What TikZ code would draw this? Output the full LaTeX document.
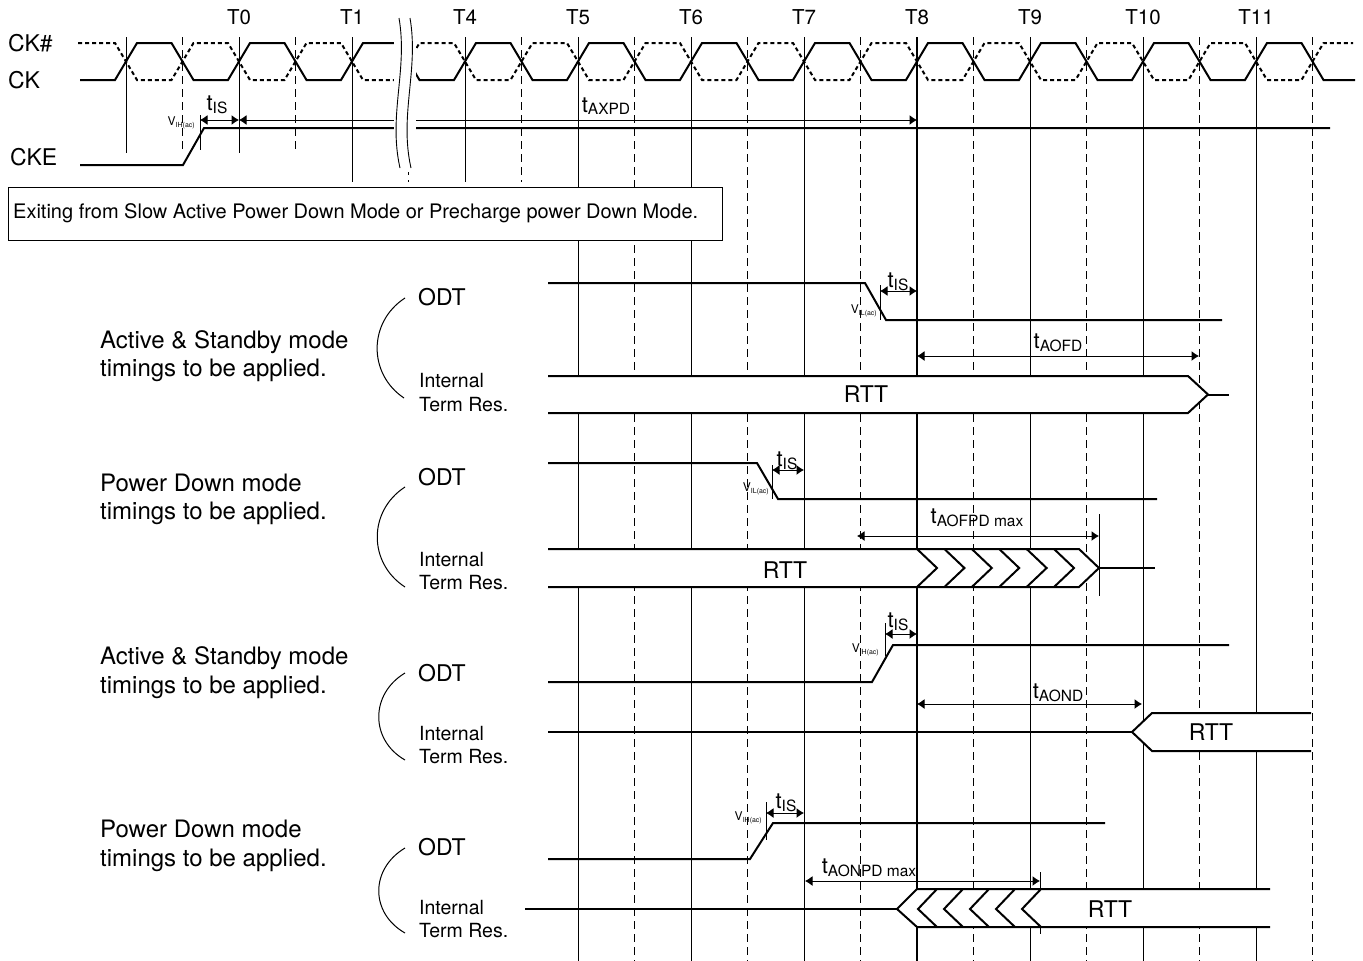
\documentclass[tikz,border=0pt]{standalone}
\usepackage{fontspec}
\setmainfont{TeX Gyre Heros}
\usetikzlibrary{arrows.meta}

\newcommand{\tsub}[1]{t\raisebox{-2.5pt}{\fontsize{15.5}{16}\selectfont #1}}
\newcommand{\vsub}[1]{{\fontsize{12}{12}\selectfont V}\raisebox{-2pt}{\fontsize{7}{7}\selectfont #1}}

\begin{document}
\begin{tikzpicture}[
    x                = 1pt,
    y                = -1pt,
    sig/.style       = {line width=2pt},
    sigdash/.style   = {line width=2pt, dash pattern=on 4pt off 3pt},
    edgeline/.style  = {line width=0.9pt},
    halfline/.style  = {line width=0.9pt, dash pattern=on 8pt off 5pt},
    timearrow/.style = {line width=1pt, {Latex[length=7.5pt,width=10pt]}-{Latex[length=7.5pt,width=10pt]}},
    marker/.style    = {line width=1pt},
    bus/.style       = {line width=2pt, fill=white},
    sigtext/.style   = {font=\fontsize{23}{27}\selectfont, inner sep=0pt, anchor=west},
    tlabel/.style    = {font=\fontsize{20.5}{24}\selectfont, inner sep=0pt},
    timetext/.style  = {font=\fontsize{22}{26}\selectfont, inner sep=0pt},
    vtext/.style     = {inner sep=0pt, anchor=east},
    modetext/.style  = {font=\fontsize{24}{28.7}\selectfont, inner sep=0pt, anchor=west, align=left},
    termtext/.style  = {font=\fontsize{19.5}{23.5}\selectfont, inner sep=0pt, anchor=west, align=left}
  ]
\useasboundingbox (0,0) rectangle (1363,961);

% clock edge lines
\foreach \k in {0,...,10} {
  \pgfmathsetmacro{\xs}{126+113*\k}
  \pgfmathsetmacro{\xd}{182.5+113*\k}
  \ifnum\k<2 \def\yend{153}\else\ifnum\k<4 \def\yend{182}\else\def\yend{961}\fi\fi
  \draw[edgeline] (\xs,37) -- (\xs,\yend);
  \draw[halfline] (\xd,37) -- (\xd,\yend);
}
\draw[line width=2pt] (917,37) -- (917,961);

\foreach \x/\t in {239/T0, 352/T1, 465/T4, 578/T5, 691/T6, 804/T7, 917/T8, 1030/T9, 1143/T10, 1256/T11}
  \node[tlabel] (l\t) at (\x,17) {\t};

\node[sigtext] (ckn) at (8,43) {CK\#};
\node[sigtext] (ck) at (8,80) {CK};
\node[sigtext] (cke) at (10,157) {CKE};

\draw[sig] (80,80) \foreach \k in {0,...,10} { -- ({115+113*\k},80) -- ({137+113*\k},43) -- ({171.5+113*\k},43) -- ({193.5+113*\k},80) } -- (1355,80);
\draw[sigdash] (78,43) \foreach \k in {0,...,10} { -- ({115+113*\k},43) -- ({137+113*\k},80) -- ({171.5+113*\k},80) -- ({193.5+113*\k},43) } -- (1353,43);

\draw[sig] (80,165) -- (183,165) -- (204,128) -- (1330,128);
\draw[marker] (200,115) -- (200,150);
\draw[timearrow] (200,120) -- (239,120);
\draw[timearrow] (239,120) -- (917,120);
\node[timetext] (tis0) at (217,105) {\tsub{IS}};
\node[timetext] (taxpd) at (606,106) {\tsub{AXPD}};
\node[vtext] (vih0) at (195,123) {\vsub{IH(ac)}};

% break
\fill[white] (393.5,15) rectangle (416,172);
\draw[edgeline] (399,18) .. controls (408,70) and (388,115) .. (400,168);
\draw[edgeline] (410,18) .. controls (419,70) and (399,115) .. (411,168);

\node[draw, line width=1pt, fill=white, minimum width=714pt, minimum height=53pt, anchor=north west, inner sep=0pt] (exitbox) at (8,187) {};
\node[font=\fontsize{20}{24}\selectfont, anchor=west, inner sep=0pt] (exittext) at (13,213.5) {Exiting from Slow Active Power Down Mode or Precharge power Down Mode.};

% active & standby, ODT low
\node[modetext] (mode1) at (100,356) {Active \& Standby mode\\timings to be applied.};
\draw[marker] (405,298) .. controls (368,322) and (368,374) .. (404,398);
\node[sigtext] (odt1) at (418,297) {ODT};
\node[termtext] (term1) at (419,392.5) {Internal\\Term Res.};
\draw[sig] (548,283) -- (865,283) -- (886,320) -- (1222,320);
\draw[marker] (880,285) -- (880,320);
\draw[timearrow] (880,291) -- (917,291);
\node[timetext] (tis1) at (898,282) {\tsub{IS}};
\node[vtext] (vil1) at (877,311) {\vsub{IL(ac)}};
\draw[timearrow] (917,356) -- (1199,356);
\node[timetext] (taofd) at (1058,343) {\tsub{AOFD}};
\draw[bus] (548,376) -- (1188,376) -- (1208,394.5) -- (1188,413) -- (548,413);
\draw[sig] (1208,394.5) -- (1229,394.5);
\node[sigtext, anchor=center] (rtt1) at (866,394) {RTT};

% power down, ODT low
\node[modetext] (mode2) at (100,499.5) {Power Down mode\\timings to be applied.};
\draw[marker] (405,487) .. controls (368,511) and (368,563) .. (405,587);
\node[sigtext] (odt2) at (418,477) {ODT};
\node[termtext] (term2) at (419,571) {Internal\\Term Res.};
\draw[sig] (548,463) -- (757,463) -- (778,499) -- (1157,499);
\draw[marker] (772,465) -- (772,499);
\draw[timearrow] (772,470) -- (804,470);
\node[timetext] (tis2) at (787,461) {\tsub{IS}};
\node[vtext] (vil2) at (769,489) {\vsub{IL(ac)}};
\draw[marker] (1099,514) -- (1099,596);
\draw[timearrow] (857,536) -- (1099,536);
\node[timetext] (taofpd) at (977,518) {\tsub{AOFPD max}};
\draw[bus] (548,549) -- (1079,549) -- (1099,568) -- (1079,587) -- (548,587);
\foreach \i in {0,...,5}
  \draw[sig] ({917+27.4*\i},549) -- ({937+27.4*\i},568) -- ({917+27.4*\i},587);
\draw[sig] (1099,568) -- (1155,568);
\node[sigtext, anchor=center] (rtt2) at (785,570) {RTT};

% active & standby, ODT high
\node[modetext] (mode3) at (100,672.5) {Active \& Standby mode\\timings to be applied.};
\draw[marker] (405,673) .. controls (370,694) and (370,740) .. (405,760);
\node[sigtext] (odt3) at (418,673) {ODT};
\node[termtext] (term3) at (419,745) {Internal\\Term Res.};
\draw[sig] (548,682) -- (872,682) -- (893,645) -- (1229,645);
\draw[marker] (885,623) -- (885,656);
\draw[timearrow] (885,634) -- (917,634);
\node[timetext] (tis3) at (898,622) {\tsub{IS}};
\node[vtext] (vih3) at (879,650) {\vsub{IH(ac)}};
\draw[timearrow] (917,704) -- (1142,704);
\node[timetext] (taond) at (1058,693) {\tsub{AOND}};
\draw[sig] (548,732) -- (1132,732);
\draw[bus] (1311,713) -- (1152,713) -- (1132,732) -- (1152,751) -- (1311,751);
\node[sigtext, anchor=center] (rtt3) at (1211,732) {RTT};

% power down, ODT high
\node[modetext] (mode4) at (100,846) {Power Down mode\\timings to be applied.};
\draw[marker] (405,848) .. controls (370,869) and (370,913) .. (405,933);
\node[sigtext] (odt4) at (418,847) {ODT};
\node[termtext] (term4) at (419,919) {Internal\\Term Res.};
\draw[sig] (548,859) -- (750,859) -- (773,823) -- (1105,823);
\draw[marker] (766,802) -- (766,840);
\draw[timearrow] (766,813) -- (804,813);
\node[timetext] (tis4) at (786,803) {\tsub{IS}};
\node[vtext] (vih4) at (762,818) {\vsub{IH(ac)}};
\draw[marker] (1040,872) -- (1040,934);
\draw[timearrow] (805,881) -- (1040,881);
\node[timetext] (taonpd) at (869,868) {\tsub{AONPD max}};
\draw[sig] (525,909) -- (897,909);
\draw[bus] (1270,889) -- (917,889) -- (897,909) -- (917,927) -- (1270,927);
\foreach \i in {0,...,4}
  \draw[sig] ({937+26*\i},889) -- ({918+26*\i},909) -- ({937+26*\i},927);
\node[sigtext, anchor=center] (rtt4) at (1110,909) {RTT};
\end{tikzpicture}
\end{document}
